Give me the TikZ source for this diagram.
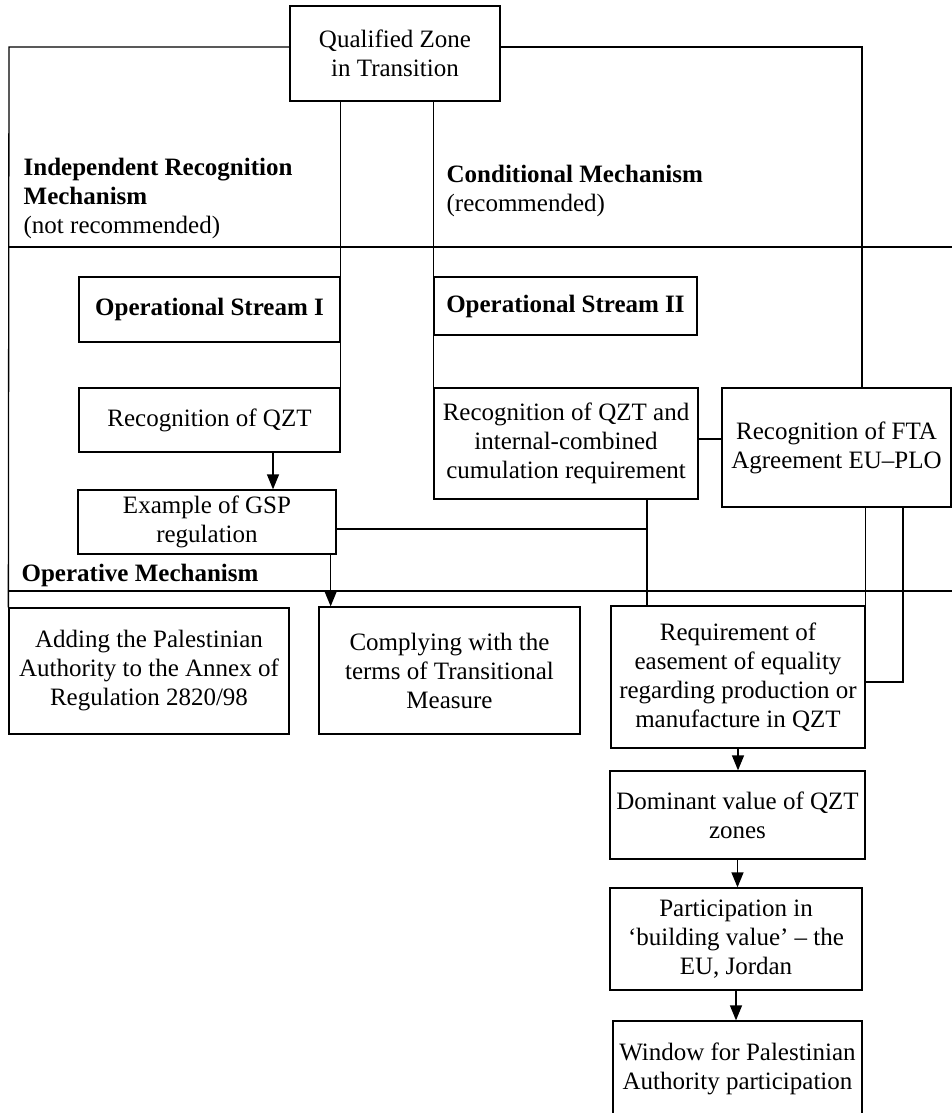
\documentclass[tikz,border=0pt]{standalone}
\usepackage{fontspec}
\setmainfont{Liberation Serif}
\usetikzlibrary{arrows.meta}

\begin{document}
\begin{tikzpicture}[x=1pt, y=-1pt, line width=1.3pt,
	font=\fontsize{25}{29}\selectfont,
	box/.style={draw, align=center, inner sep=0pt},
	lbl/.style={anchor=west, align=left, inner sep=0pt},
	arr/.style={-{Triangle[length=15pt,width=12pt]}}]
	\useasboundingbox (0,0) rectangle (952,1113);
	% top node and the two mechanisms
	\node[box, minimum width=210, minimum height=95] (qzt) at (395,53.5) {Qualified Zone\\in Transition};
	\node[lbl] (indep) at (23,198) {\textbf{Independent Recognition}\\\textbf{Mechanism}\\(not recommended)};
	\node[lbl] (cond) at (446,191) {\textbf{Conditional Mechanism}\\(recommended)};
	\node[lbl] (oper) at (21,575) {\textbf{Operative Mechanism}};
	% streams
	\node[box, minimum width=261, minimum height=65] (os1) at (209.5,309.5) {\textbf{Operational Stream I}};
	\node[box, minimum width=263, minimum height=58] (os2) at (565.5,306) {\textbf{Operational Stream II}};
	\node[box, minimum width=261, minimum height=64] (rq1) at (209.5,420) {Recognition of QZT};
	\node[box, minimum width=258, minimum height=64] (gsp) at (207,522) {Example of GSP\\regulation};
	\node[box, minimum width=264, minimum height=111] (rq2) at (566,443.5) {Recognition of QZT and\\internal-combined\\cumulation requirement};
	\node[box, minimum width=229, minimum height=119] (fta) at (836.5,447.5) {Recognition of FTA\\Agreement EU–PLO};
	% operative boxes
	\node[box, minimum width=280, minimum height=126] (add) at (149,671) {Adding the Palestinian\\Authority to the Annex of\\Regulation 2820/98};
	\node[box, minimum width=261, minimum height=127] (cmp) at (449.5,670.5) {Complying with the\\terms of Transitional\\Measure};
	\node[box, minimum width=254, minimum height=142] (req) at (738,677) {Requirement of\\easement of equality\\regarding production or\\manufacture in QZT};
	\node[box, minimum width=255, minimum height=88] (dom) at (737.5,815) {Dominant value of QZT\\zones};
	\node[box, minimum width=252, minimum height=102] (par) at (736,939) {Participation in\\‘building value’ – the\\EU, Jordan};
	\node[box, minimum width=249, minimum height=96] (win) at (737.5,1069) {Window for Palestinian\\Authority participation};
	% frame and separators
	\coordinate (tl) at (9,47);
	\coordinate (tr) at (862,47);
	\draw (qzt.west |- tl) -- (tl) -- (add.north west);
	\draw (qzt.east |- tl) -- (tr) -- (tr |- fta.north);
	\draw (9,247) -- (952,247);
	\draw (9,591) -- (952,591);
	% connectors
	\draw (qzt.south -| rq1.east) -- (rq1.north east);
	\draw (qzt.south -| rq2.west) -- (rq2.north west);
	\draw[arr] ([xshift=63.5]rq1.south) -- ([xshift=63.5]rq1.south |- gsp.north);
	\draw[arr] ([xshift=-6]gsp.south east) -- ([xshift=-6]gsp.south east |- cmp.north);
	\coordinate (j) at ([xshift=81]rq2.south);
	\coordinate (gj) at ([yshift=-7]gsp.east);
	\draw (j) -- (j |- req.north);
	\draw (gj) -- (gj -| j);
	\draw ([yshift=4.5]rq2.east) -- ([yshift=4.5]rq2.east -| fta.west);
	\draw (fta.south -| req.east) -- (req.north east);
	\draw ([xshift=66.5]fta.south) |- ([yshift=-5]req.east);
	\draw[arr] (req.south) -- (req.south |- dom.north);
	\draw[arr] (dom.south) -- (dom.south |- par.north);
	\draw[arr] (par.south) -- (par.south |- win.north);
\end{tikzpicture}
\end{document}
